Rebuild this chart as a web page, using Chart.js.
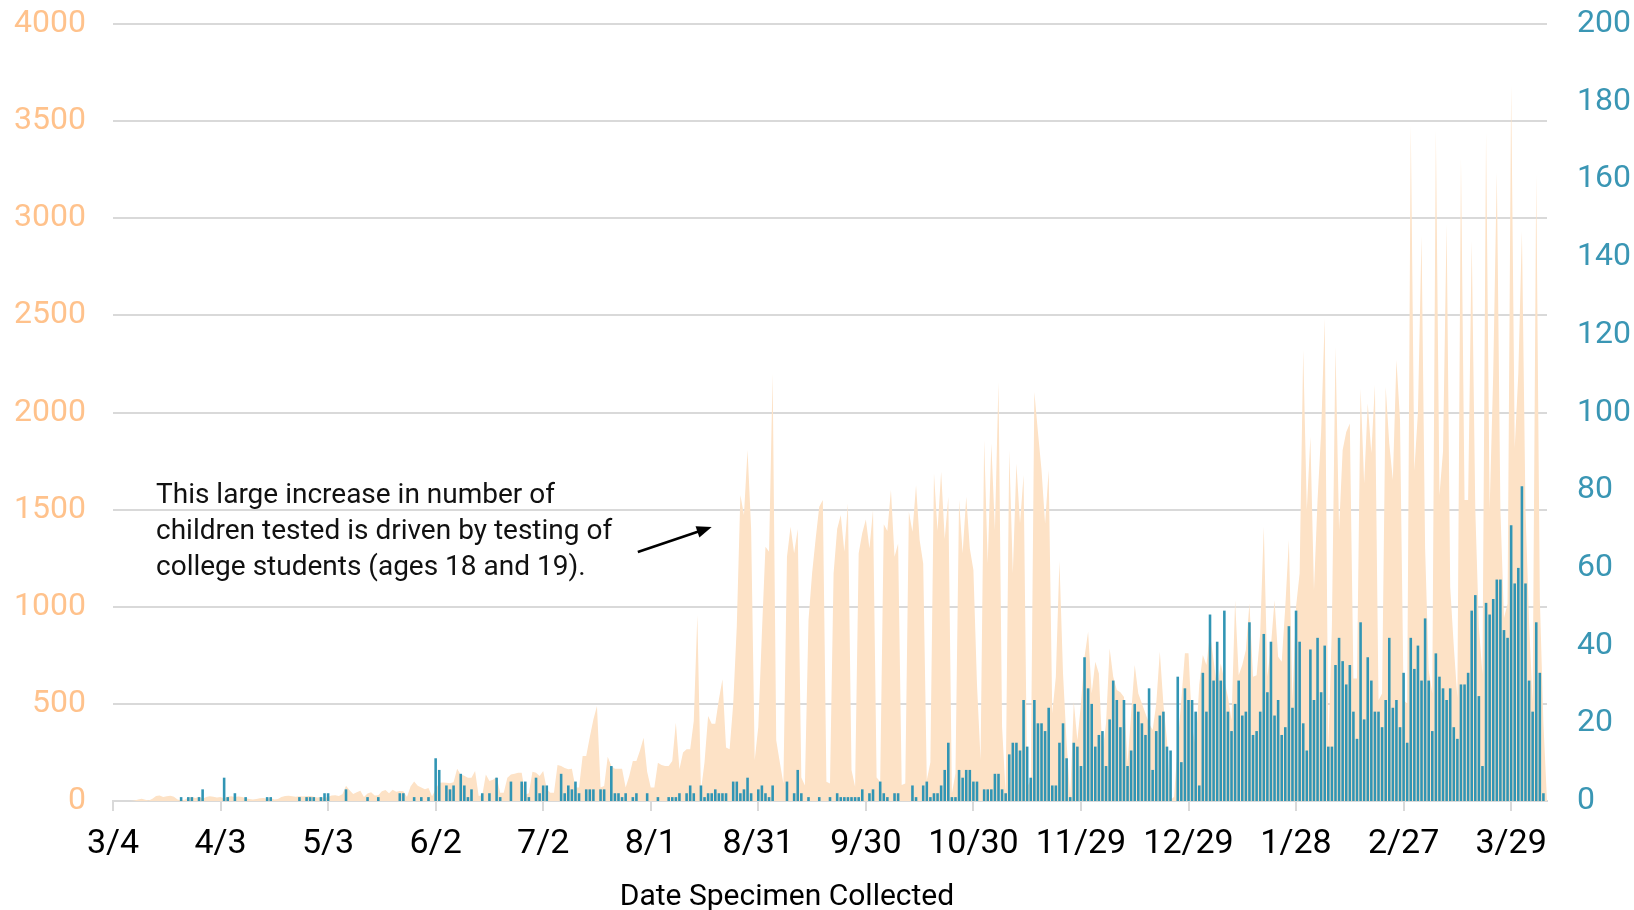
<!DOCTYPE html>
<html>
<head>
<meta charset="utf-8">
<script src="https://cdn.jsdelivr.net/npm/chart.js@4.4.1/dist/chart.umd.min.js"></script>
<style>
  html, body { margin: 0; padding: 0; background: #fff; }
  #wrap { width: 1634px; height: 910px; }
</style>
</head>
<body>
<div id="wrap"><canvas id="chart" width="1634" height="910"></canvas></div>
<script>
// Daily data, 3/4/2020 -> 4/8/2021 (one value per day)

// children tested (left axis)
const testsTotal = [
  0,0,0,0,0,0,3,8,12,6,
  2,12,26,28,20,24,27,22,8,4,
  6,18,20,15,22,12,20,24,22,18,
  20,14,22,24,20,23,21,14,10,8,
  10,14,16,12,15,8,10,20,26,27,
  24,22,25,23,24,26,22,18,20,15,
  22,28,30,26,35,79,55,36,45,53,
  20,38,45,28,30,50,57,40,58,48,
  52,50,20,75,100,78,70,60,67,25,
  60,94,95,94,92,96,166,137,130,120,
  120,155,26,30,137,103,110,124,43,43,
  120,137,140,146,146,34,40,151,145,129,
  155,60,43,43,185,180,170,163,166,69,
  69,232,232,330,420,489,69,77,228,180,
  166,166,166,69,129,206,206,260,326,150,
  69,69,197,185,180,180,206,403,163,250,
  266,266,412,957,51,200,438,398,398,523,
  627,275,266,500,900,1575,1472,1807,1400,211,
  381,863,1309,1283,2201,313,200,90,1257,1412,
  1275,1400,121,80,931,1171,1350,1515,1549,99,
  90,1171,1400,1472,1283,1532,159,73,1275,1380,
  1449,1300,1498,121,99,1425,1390,1601,1257,1326,
  82,90,1489,1386,1626,1343,1223,107,200,1687,
  1390,1695,1349,1566,38,142,1549,1275,1566,1300,
  1189,600,211,1858,1223,1841,1395,2158,381,40,
  1807,1171,1738,1429,1678,73,107,2106,1900,1704,
  1429,1704,451,640,1236,657,300,22,511,313,
  500,742,871,554,717,657,245,400,785,640,
  571,560,536,193,450,700,554,502,450,399,
  365,500,768,500,313,5,22,300,519,760,
  760,382,279,600,751,700,863,725,580,708,
  622,536,416,1034,648,700,777,1017,639,648,
  862,1412,639,800,1034,742,717,1000,1343,519,
  1000,1172,2322,1498,1875,1086,1549,1900,2485,262,
  900,2339,1395,1807,1900,1944,631,631,2124,1635,
  2047,1790,2141,519,554,2133,1841,1652,2270,1961,
  519,502,3481,1700,2000,2910,1300,675,554,3456,
  1574,1800,2970,1100,797,530,3311,1550,1550,2885,
  1500,894,651,3444,1501,2200,3238,1500,942,1015,
  3687,1817,2200,2934,1500,918,505,3226,1040,400,
  0
];

// positives (right axis)
const testsPositive = [
  0,0,0,0,0,0,0,0,0,0,
  0,0,0,0,0,0,0,0,0,1,
  0,1,1,0,1,3,0,0,0,0,
  0,6,1,0,2,0,0,1,0,0,
  0,0,0,1,1,0,0,0,0,0,
  0,0,1,0,1,1,1,0,1,2,
  2,0,0,0,0,3,0,0,0,0,
  0,1,0,0,1,0,0,0,0,0,
  2,2,0,0,1,0,1,0,1,0,
  11,8,0,4,3,4,0,7,4,1,
  3,0,0,2,0,2,0,6,1,0,
  0,5,0,0,5,5,1,0,6,2,
  4,4,0,0,0,7,2,4,3,5,
  2,0,3,3,3,0,3,3,0,9,
  2,2,1,2,0,1,2,0,0,2,
  0,0,1,0,0,1,1,1,2,0,
  2,4,2,0,4,1,2,2,3,2,
  2,2,0,5,5,2,3,6,2,0,
  3,4,2,1,4,0,0,0,5,0,
  2,8,2,0,1,0,0,1,0,0,
  1,0,2,1,1,1,1,1,1,3,
  0,2,3,0,5,2,1,0,2,2,
  0,0,0,4,1,0,4,5,1,2,
  2,4,8,15,1,1,8,6,8,8,
  5,5,0,3,3,3,7,7,3,2,
  12,15,15,13,26,14,6,26,20,20,
  18,24,4,4,15,20,11,1,15,14,
  9,37,29,25,14,17,18,9,21,31,
  26,19,26,9,13,25,23,20,17,29,
  8,18,22,23,14,13,0,32,10,29,
  26,26,23,4,33,23,48,31,41,31,
  49,23,18,25,31,22,23,46,17,18,
  23,43,28,41,22,26,17,19,45,24,
  49,41,20,13,39,26,42,28,40,14,
  14,35,42,36,30,35,23,16,46,21,
  37,31,23,23,19,26,42,24,26,19,
  33,15,42,34,40,31,47,31,18,38,
  32,29,26,29,19,16,30,30,33,49,
  53,27,9,51,48,52,57,57,44,42,
  71,56,60,81,56,31,23,46,33,2,
  0
];

// x tick labels, one every 30 days
const tickLabels = ['3/4','4/3','5/3','6/2','7/2','8/1','8/31','9/30','10/30','11/29','12/29','1/28','2/27','3/29'];

const noteLines = [
  'This large increase in number of',
  'children tested is driven by testing of',
  'college students (ages 18 and 19).'
];
const xTitle = 'Date Specimen Collected';

// category labels: one date per day
const start = new Date(2020, 2, 4);
const dayLabels = testsTotal.map((v, i) => {
  const d = new Date(start.getFullYear(), start.getMonth(), start.getDate() + i);
  return (d.getMonth() + 1) + '/' + d.getDate();
});

const FONT = 'Roboto, "Liberation Sans", sans-serif';
const GRID = '#D9D9D9';

const notePlugin = {
  id: 'note',
  afterDraw(chart) {
    const ctx = chart.ctx;
    const x = chart.scales.x;
    const y = chart.scales.y;
    ctx.save();
    // annotation text
    ctx.fillStyle = '#111';
    ctx.font = '28px ' + FONT;
    ctx.textBaseline = 'middle';
    ctx.textAlign = 'left';
    const tx = x.getPixelForValue(12);
    const ty = y.getPixelForValue(1570);
    noteLines.forEach((t, i) => ctx.fillText(t, tx, ty + i * 36));
    // arrow
    const x0 = x.getPixelForValue(146.4), y0 = y.getPixelForValue(1282);
    const x1 = x.getPixelForValue(167), y1 = y.getPixelForValue(1410);
    const ang = Math.atan2(y1 - y0, x1 - x0);
    ctx.strokeStyle = '#000';
    ctx.lineWidth = 2.5;
    ctx.beginPath();
    ctx.moveTo(x0, y0);
    ctx.lineTo(x1 - 10 * Math.cos(ang), y1 - 10 * Math.sin(ang));
    ctx.stroke();
    ctx.fillStyle = '#000';
    ctx.beginPath();
    ctx.moveTo(x1, y1);
    ctx.lineTo(x1 - 15 * Math.cos(ang) + 6 * Math.sin(ang), y1 - 15 * Math.sin(ang) - 6 * Math.cos(ang));
    ctx.lineTo(x1 - 15 * Math.cos(ang) - 6 * Math.sin(ang), y1 - 15 * Math.sin(ang) + 6 * Math.cos(ang));
    ctx.closePath();
    ctx.fill();
    // axis title (sits a bit left of the plot centre)
    ctx.fillStyle = '#000';
    ctx.font = '30px ' + FONT;
    ctx.textAlign = 'center';
    ctx.fillText(xTitle, x.getPixelForValue(188), 897);
    ctx.restore();
  }
};

new Chart(document.getElementById('chart'), {
  type: 'bar',
  data: {
    labels: dayLabels,
    datasets: [
      {
        type: 'bar',
        label: 'Positive',
        data: testsPositive,
        yAxisID: 'y1',
        backgroundColor: '#3195B4',
        borderWidth: 0,
        barPercentage: 0.8,
        categoryPercentage: 0.9,
        order: 1
      },
      {
        type: 'line',
        label: 'Tested',
        data: testsTotal,
        yAxisID: 'y',
        backgroundColor: '#FDE2C6',
        borderWidth: 0,
        pointRadius: 0,
        tension: 0,
        fill: 'origin',
        order: 2
      }
    ]
  },
  options: {
    responsive: false,
    animation: false,
    layout: { padding: { top: 24, left: 0, right: 0, bottom: 0 } },
    plugins: {
      legend: { display: false },
      tooltip: { enabled: false }
    },
    scales: {
      x: {
        type: 'category',
        offset: false,
        grid: {
          offset: false,
          drawOnChartArea: false,
          drawTicks: true,
          tickLength: 10,
          color: GRID,
          lineWidth: 2
        },
        border: { display: true, color: GRID, width: 2 },
        ticks: {
          autoSkip: false,
          maxRotation: 0,
          minRotation: 0,
          padding: 13,
          color: '#000',
          font: { family: FONT, size: 34 },
          callback: (val, i) => (i % 30 === 0 ? tickLabels[i / 30] : null)
        },
        afterFit: (s) => { s.height = 109; s.paddingLeft = 0; s.paddingRight = 0; }
      },
      y: {
        position: 'left',
        min: 0,
        max: 4000,
        grid: { color: GRID, lineWidth: 2, drawTicks: false },
        border: { display: false },
        ticks: {
          stepSize: 500,
          padding: 27,
          color: '#FFC28C',
          font: { family: FONT, size: 32 },
          callback: (v) => String(v)
        },
        afterFit: (s) => { s.width = 113; s.paddingTop = 0; s.paddingBottom = 0; }
      },
      y1: {
        position: 'right',
        min: 0,
        max: 200,
        grid: { display: false, drawTicks: false },
        border: { display: false },
        ticks: {
          stepSize: 20,
          padding: 30,
          color: '#3A96B4',
          font: { family: FONT, size: 32 },
          callback: (v) => String(v)
        },
        afterFit: (s) => { s.width = 87; s.paddingTop = 0; s.paddingBottom = 0; }
      }
    }
  },
  plugins: [notePlugin]
});
</script>
</body>
</html>
